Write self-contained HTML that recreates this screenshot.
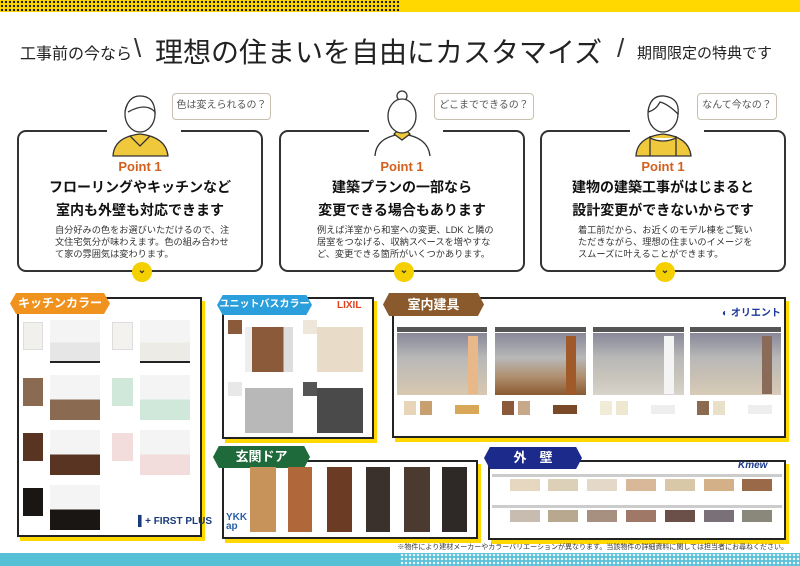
<!DOCTYPE html>
<html><head><meta charset="utf-8"><style>
*{margin:0;padding:0;box-sizing:border-box}
body{width:800px;height:566px;position:relative;overflow:hidden;background:#fff;font-family:"Liberation Sans","Noto Sans CJK JP",sans-serif;color:#222}
.a{position:absolute;white-space:nowrap}
.card{position:absolute;top:130px;width:246px;height:142px;border:2px solid #333;border-radius:9px;background:#fff}
.gap{position:absolute;top:-3px;left:88px;width:74px;height:5px;background:#fff}
.pt{position:absolute;top:27px;width:100%;text-align:center;color:#d2601e;font-size:13px;font-weight:bold}
.h{position:absolute;width:100%;text-align:center;font-size:14px;font-weight:bold;color:#111;white-space:nowrap}
.bd{position:absolute;top:92px;left:36px;width:180px;font-size:9.2px;line-height:12px;color:#333}
.chev{position:absolute;left:113px;bottom:-12px;width:20px;height:20px;border-radius:50%;background:#f5d000;text-align:center;font-size:10px;line-height:18px;color:#333;font-weight:bold}
.bub{position:absolute;top:93px;height:27px;border:1.5px solid #c8c0b0;border-radius:4px;background:#fff;font-size:10px;line-height:24px;text-align:center;color:#555;white-space:nowrap}
.box{position:absolute;border:2px solid #222;background:#fff;box-shadow:3px 4px 0 #ffd800}
.tab{position:absolute;color:#fff;font-weight:bold;font-size:12px;text-align:center;white-space:nowrap;clip-path:polygon(6% 0,94% 0,100% 50%,94% 100%,6% 100%,0 50%)}
.sw{position:absolute}
</style></head><body>
<div class="a" style="left:0;top:0;width:800px;height:12px;background:#ffd800"></div>
<div class="a" style="left:0;top:0;width:400px;height:12px;background-image:radial-gradient(#222 1.2px,transparent 1.3px);background-size:4px 4px"></div>

<div class="a" style="left:20px;top:40px;font-size:16px;color:#222">工事前の今なら</div>
<div class="a" style="left:134px;top:33px;font-size:26px;color:#333">\</div>
<div class="a" style="left:155px;top:31px;font-size:28px;color:#222">理想の住まいを自由にカスタマイズ</div>
<div class="a" style="left:617px;top:33px;font-size:26px;color:#333">/</div>
<div class="a" style="left:637px;top:42px;font-size:15px;color:#222">期間限定の特典です</div>

<div class="card" style="left:17px"><div class="gap"></div><div class="pt">Point 1</div><div class="h" style="top:45px">フローリングやキッチンなど</div><div class="h" style="top:68px">室内も外壁も対応できます</div><div class="bd">自分好みの色をお選びいただけるので、注文住宅気分が味わえます。色の組み合わせて家の雰囲気は変わります。</div><div class="chev">⌄</div></div>
<div class="card" style="left:279px"><div class="gap"></div><div class="pt">Point 1</div><div class="h" style="top:45px">建築プランの一部なら</div><div class="h" style="top:68px">変更できる場合もあります</div><div class="bd">例えば洋室から和室への変更、LDK と隣の居室をつなげる、収納スペースを増やすなど、変更できる箇所がいくつかあります。</div><div class="chev">⌄</div></div>
<div class="card" style="left:540px"><div class="gap"></div><div class="pt">Point 1</div><div class="h" style="top:45px">建物の建築工事がはじまると</div><div class="h" style="top:68px">設計変更ができないからです</div><div class="bd">着工前だから、お近くのモデル棟をご覧いただきながら、理想の住まいのイメージをスムーズに叶えることができます。</div><div class="chev">⌄</div></div>

<svg class="a" style="left:0;top:90px" width="800" height="70">
<g stroke="#333" stroke-width="1.3" fill="#fff">
<path d="M113 66 Q114 47 140 44 Q166 47 168 66 Z" fill="#f0c83c"/><path d="M130 46 L140 56 L150 46" fill="none"/>
<ellipse cx="140" cy="24" rx="15" ry="18"/><path d="M125 22 Q128 6 140 6 Q154 6 155 22 Q146 12 128 22" fill="#fff"/>
<path d="M375 66 Q376 47 402 44 Q428 47 430 66" /><path d="M394 44 L402 50 L410 44 L406 40 L398 40 Z" fill="#f0c83c"/>
<circle cx="402" cy="6" r="5"/><ellipse cx="402" cy="26" rx="14" ry="17"/>
<path d="M636 66 Q637 47 663 44 Q689 47 691 66 Z" fill="#f0c83c"/><path d="M650 46 L650 66 M676 46 L676 66 M650 48 Q663 54 676 48" fill="#fff"/>
<ellipse cx="663" cy="24" rx="15" ry="18"/><path d="M648 22 Q650 5 664 6 Q680 8 678 24 Q668 14 660 12 Q656 20 648 22" fill="#fff"/>
</g></svg>
<div class="bub" style="left:172px;width:99px">色は変えられるの？</div>
<div class="bub" style="left:434px;width:100px">どこまでできるの？</div>
<div class="bub" style="left:697px;width:80px">なんて今なの？</div>

<div class="box" style="left:17px;top:297px;width:185px;height:240px"></div>
<div class="tab" style="left:10px;top:293px;width:100px;height:21px;background:#f0921e;line-height:21px">キッチンカラー</div>
<div class="sw" style="left:23px;top:322px;width:20px;height:28px;background:#f2f0ec;border:1px solid #ddd"></div>
<div class="sw" style="left:50px;top:320px;width:50px;height:43px;background:linear-gradient(#f4f4f4 55%,#e6e6e6 55%);border-bottom:2px solid #222"></div>
<div class="sw" style="left:23px;top:378px;width:20px;height:28px;background:#8a6a50"></div>
<div class="sw" style="left:50px;top:375px;width:50px;height:45px;background:linear-gradient(#f4f4f4 55%,#8a6a50 55%)"></div>
<div class="sw" style="left:23px;top:433px;width:20px;height:28px;background:#5a3422"></div>
<div class="sw" style="left:50px;top:430px;width:50px;height:45px;background:linear-gradient(#f4f4f4 55%,#5a3422 55%)"></div>
<div class="sw" style="left:23px;top:488px;width:20px;height:28px;background:#1a1614"></div>
<div class="sw" style="left:50px;top:485px;width:50px;height:45px;background:linear-gradient(#f4f4f4 55%,#1a1614 55%)"></div>
<div class="sw" style="left:112px;top:322px;width:21px;height:28px;background:#f4f2ee;border:1px solid #ddd"></div>
<div class="sw" style="left:140px;top:320px;width:50px;height:43px;background:linear-gradient(#f4f4f4 55%,#ecebe6 55%);border-bottom:2px solid #222"></div>
<div class="sw" style="left:112px;top:378px;width:21px;height:28px;background:#cfe8da"></div>
<div class="sw" style="left:140px;top:375px;width:50px;height:45px;background:linear-gradient(#f4f4f4 55%,#cfe8da 55%)"></div>
<div class="sw" style="left:112px;top:433px;width:21px;height:28px;background:#f2dcdc"></div>
<div class="sw" style="left:140px;top:430px;width:50px;height:45px;background:linear-gradient(#f4f4f4 55%,#f2dcdc 55%)"></div>
<div class="a" style="left:138px;top:516px;font-size:10px;font-weight:bold;color:#1a3a7a">▌+ FIRST PLUS</div>

<div class="box" style="left:222px;top:297px;width:152px;height:142px"></div>
<div class="tab" style="left:217px;top:295px;width:95px;height:20px;background:#2a9fdc;line-height:20px;font-size:10px">ユニットバスカラー</div>
<div class="a" style="left:337px;top:300px;font-size:10px;font-weight:bold;color:#e04020">LIXIL</div>
<div class="sw" style="left:228px;top:320px;width:14px;height:14px;background:#8a5a3a"></div>
<div class="sw" style="left:245px;top:327px;width:48px;height:45px;background:linear-gradient(90deg,#eee 15%,#8a5a3a 15%,#8a5a3a 80%,#ddd 80%)"></div>
<div class="sw" style="left:303px;top:320px;width:14px;height:14px;background:#eee6d8"></div>
<div class="sw" style="left:317px;top:327px;width:46px;height:45px;background:#e8dcc8"></div>
<div class="sw" style="left:228px;top:382px;width:14px;height:14px;background:#e8e8e8"></div>
<div class="sw" style="left:245px;top:388px;width:48px;height:45px;background:#b8b8b8"></div>
<div class="sw" style="left:303px;top:382px;width:14px;height:14px;background:#555"></div>
<div class="sw" style="left:317px;top:388px;width:46px;height:45px;background:#4a4a4a"></div>

<div class="box" style="left:392px;top:297px;width:394px;height:141px"></div>
<div class="tab" style="left:383px;top:293px;width:101px;height:23px;background:#8a5a2c;line-height:23px;font-size:13px">室内建具</div>
<div class="a" style="left:722px;top:304px;font-size:10px;font-weight:bold;color:#1a3a9a">◐ オリエント</div>
<div class="sw" style="left:397px;top:327px;width:90px;height:5px;background:#555"></div>
<div class="sw" style="left:397px;top:333px;width:90px;height:62px;background:linear-gradient(#889 0,#b8b8b8 40%,#c8c0b4 70%,#d8c8b0 100%)"></div>
<div class="sw" style="left:468px;top:336px;width:10px;height:58px;background:#e8b888"></div>
<div class="sw" style="left:495px;top:327px;width:91px;height:5px;background:#555"></div>
<div class="sw" style="left:495px;top:333px;width:91px;height:62px;background:linear-gradient(#889 0,#b8b8b8 40%,#b09070 70%,#8a5a30 100%)"></div>
<div class="sw" style="left:566px;top:336px;width:10px;height:58px;background:#a05a2a"></div>
<div class="sw" style="left:593px;top:327px;width:91px;height:5px;background:#555"></div>
<div class="sw" style="left:593px;top:333px;width:91px;height:62px;background:linear-gradient(#889 0,#b8b8b8 40%,#c8c4bc 70%,#d8d4cc 100%)"></div>
<div class="sw" style="left:664px;top:336px;width:10px;height:58px;background:#f4f4f4"></div>
<div class="sw" style="left:690px;top:327px;width:91px;height:5px;background:#555"></div>
<div class="sw" style="left:690px;top:333px;width:91px;height:62px;background:linear-gradient(#889 0,#b8b8b8 40%,#c8c0b4 70%,#d8ccb8 100%)"></div>
<div class="sw" style="left:762px;top:336px;width:10px;height:58px;background:#8a6a58"></div>
<div class="sw" style="left:404px;top:401px;width:12px;height:14px;background:#e8d4b8"></div><div class="sw" style="left:420px;top:401px;width:12px;height:14px;background:#c8a070"></div><div class="sw" style="left:455px;top:405px;width:24px;height:9px;background:#d8a858"></div>
<div class="sw" style="left:502px;top:401px;width:12px;height:14px;background:#8a5a3a"></div><div class="sw" style="left:518px;top:401px;width:12px;height:14px;background:#c8a88a"></div><div class="sw" style="left:553px;top:405px;width:24px;height:9px;background:#7a4a28"></div>
<div class="sw" style="left:600px;top:401px;width:12px;height:14px;background:#f0ecd8"></div><div class="sw" style="left:616px;top:401px;width:12px;height:14px;background:#eee8d0"></div><div class="sw" style="left:651px;top:405px;width:24px;height:9px;background:#eee"></div>
<div class="sw" style="left:697px;top:401px;width:12px;height:14px;background:#8a6a50"></div><div class="sw" style="left:713px;top:401px;width:12px;height:14px;background:#e8e0c8"></div><div class="sw" style="left:748px;top:405px;width:24px;height:9px;background:#eee"></div>

<div class="box" style="left:222px;top:460px;width:256px;height:79px"></div>
<div class="tab" style="left:213px;top:446px;width:97px;height:22px;background:#1e6a3a;line-height:22px;font-size:13px">玄関ドア</div>
<div class="a" style="left:226px;top:513px;font-size:10px;font-weight:bold;color:#2a5fa8;line-height:9px">YKK<br>ap</div>
<div class="sw" style="left:250px;top:467px;width:26px;height:65px;background:#c8935a"></div>
<div class="sw" style="left:288px;top:467px;width:24px;height:65px;background:#b0683a"></div>
<div class="sw" style="left:327px;top:467px;width:25px;height:65px;background:#6b3b24"></div>
<div class="sw" style="left:366px;top:467px;width:24px;height:65px;background:#3a302c"></div>
<div class="sw" style="left:404px;top:467px;width:26px;height:65px;background:#4a3a30"></div>
<div class="sw" style="left:442px;top:467px;width:25px;height:65px;background:#2e2826"></div>

<div class="box" style="left:488px;top:460px;width:298px;height:80px"></div>
<div class="tab" style="left:484px;top:447px;width:98px;height:22px;background:#1c2a8c;line-height:22px;font-size:13px">外　壁</div>
<div class="a" style="left:738px;top:460px;font-size:10px;font-style:italic;font-weight:bold;color:#1c3a8c">Kmew</div>
<div class="sw" style="left:492px;top:474px;width:290px;height:3px;background:#ccc"></div>
<div class="sw" style="left:510px;top:479px;width:30px;height:12px;background:#e6d8c0"></div><div class="sw" style="left:548px;top:479px;width:30px;height:12px;background:#ddd0b8"></div><div class="sw" style="left:587px;top:479px;width:30px;height:12px;background:#e4d8c8"></div><div class="sw" style="left:626px;top:479px;width:30px;height:12px;background:#d8b898"></div><div class="sw" style="left:665px;top:479px;width:30px;height:12px;background:#d8c8a8"></div><div class="sw" style="left:704px;top:479px;width:30px;height:12px;background:#d4b088"></div><div class="sw" style="left:742px;top:479px;width:30px;height:12px;background:#9a6a48"></div>
<div class="sw" style="left:492px;top:505px;width:290px;height:3px;background:#ccc"></div>
<div class="sw" style="left:510px;top:510px;width:30px;height:12px;background:#c8bcb0"></div><div class="sw" style="left:548px;top:510px;width:30px;height:12px;background:#b8a890"></div><div class="sw" style="left:587px;top:510px;width:30px;height:12px;background:#a89080"></div><div class="sw" style="left:626px;top:510px;width:30px;height:12px;background:#a07868"></div><div class="sw" style="left:665px;top:510px;width:30px;height:12px;background:#6a5048"></div><div class="sw" style="left:704px;top:510px;width:30px;height:12px;background:#7a7078"></div><div class="sw" style="left:742px;top:510px;width:30px;height:12px;background:#8a887a"></div>

<div class="a" style="right:12px;top:542px;font-size:7px;color:#333">※物件により建材メーカーやカラーバリエーションが異なります。当該物件の詳細資料に関しては担当者にお尋ねください。</div>
<div class="a" style="left:0;top:553px;width:800px;height:13px;background:#56c0d6"></div>
<div class="a" style="left:400px;top:553px;width:400px;height:13px;background-image:radial-gradient(#e8f6fa 1.2px,transparent 1.4px);background-size:4px 4px"></div>
</body></html>
